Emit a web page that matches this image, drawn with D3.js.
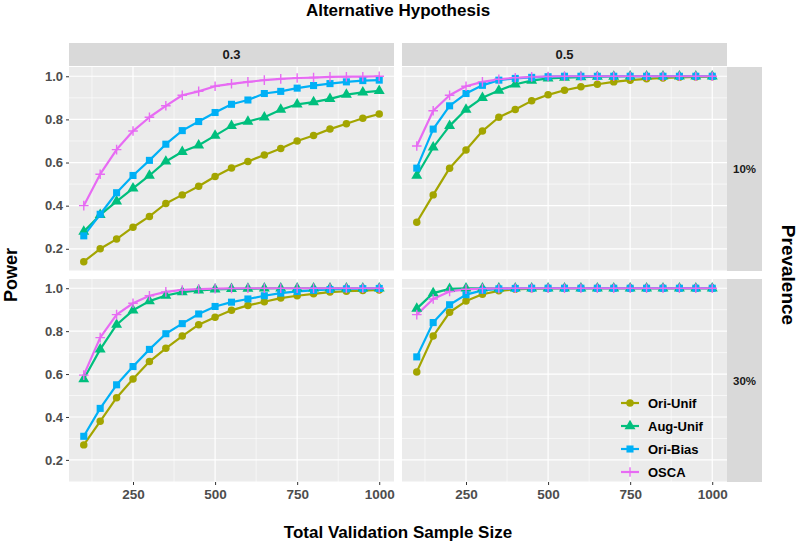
<!DOCTYPE html>
<html><head><meta charset="utf-8">
<script src="https://cdn.jsdelivr.net/npm/d3@7"></script>
<style>body{margin:0;background:#fff}text{font-family:"Liberation Sans",Arial,sans-serif;font-weight:bold}</style>
</head><body><svg id="c" width="800" height="545"></svg>
<script>
// ---------- data ----------
const sampleSizes = [100,150,200,250,300,350,400,450,500,550,600,650,700,750,800,850,900,950,1000];
const methods = ["Ori-Unif","Aug-Unif","Ori-Bias","OSCA"];
const colors = ["#A3A500","#00BF7D","#00B0F6","#E76BF3"];
const hypotheses = ["0.3","0.5"];
const prevalences = ["10%","30%"];
const xTicks = [250,500,750,1000];
const yTicks = [0.2,0.4,0.6,0.8,1.0];

// Alt 0.3, prevalence 10%
const oriUnif_03_10 = [0.14,0.20,0.245,0.30,0.35,0.41,0.45,0.49,0.535,0.575,0.605,0.635,0.665,0.70,0.725,0.755,0.78,0.805,0.825];
const augUnif_03_10 = [0.28,0.357,0.42,0.48,0.54,0.605,0.65,0.68,0.725,0.77,0.79,0.81,0.845,0.87,0.88,0.895,0.915,0.925,0.932];
const oriBias_03_10 = [0.26,0.36,0.46,0.54,0.61,0.685,0.748,0.79,0.832,0.87,0.89,0.92,0.93,0.945,0.957,0.966,0.974,0.98,0.982];
const osca_03_10    = [0.40,0.546,0.66,0.746,0.81,0.863,0.912,0.93,0.954,0.965,0.974,0.982,0.988,0.992,0.994,0.997,0.998,0.998,1.0];
// Alt 0.5, prevalence 10%
const oriUnif_05_10 = [0.323,0.45,0.574,0.658,0.746,0.81,0.846,0.886,0.914,0.935,0.951,0.963,0.974,0.982,0.988,0.992,0.995,0.997,0.998];
const augUnif_05_10 = [0.54,0.67,0.77,0.846,0.90,0.934,0.963,0.98,0.99,0.994,0.996,0.998,0.999,1,1,1,1,1,1];
const oriBias_05_10 = [0.574,0.755,0.863,0.92,0.958,0.982,0.99,0.995,0.998,1,1,1,1,1,1,1,1,1,1];
const osca_05_10    = [0.677,0.84,0.912,0.954,0.974,0.986,0.993,0.997,0.999,1,1,1,1,1,1,1,1,1,1];
// Alt 0.3, prevalence 30%
const oriUnif_03_30 = [0.27,0.38,0.49,0.577,0.658,0.72,0.777,0.83,0.865,0.897,0.92,0.937,0.954,0.965,0.974,0.982,0.986,0.989,0.992];
const augUnif_03_30 = [0.577,0.715,0.83,0.897,0.94,0.966,0.982,0.99,0.995,0.997,0.998,0.999,1,1,1,1,1,1,1];
const oriBias_03_30 = [0.31,0.44,0.55,0.635,0.715,0.788,0.835,0.88,0.915,0.935,0.95,0.965,0.977,0.985,0.99,0.994,0.997,0.998,0.999];
const osca_03_30    = [0.595,0.77,0.877,0.93,0.965,0.983,0.992,0.996,0.998,0.999,1,1,1,1,1,1,1,1,1];
// Alt 0.5, prevalence 30%
const oriUnif_05_30 = [0.61,0.777,0.888,0.94,0.972,0.988,0.995,0.998,0.999,1,1,1,1,1,1,1,1,1,1];
const augUnif_05_30 = [0.905,0.977,0.997,0.999,1,1,1,1,1,1,1,1,1,1,1,1,1,1,1];
const oriBias_05_30 = [0.68,0.84,0.923,0.97,0.99,0.997,0.999,1,1,1,1,1,1,1,1,1,1,1,1];
const osca_05_30    = [0.877,0.95,0.985,0.995,0.998,0.999,1,1,1,1,1,1,1,1,1,1,1,1,1];

const panelData = {
  "0.3|10%": [oriUnif_03_10, augUnif_03_10, oriBias_03_10, osca_03_10],
  "0.5|10%": [oriUnif_05_10, augUnif_05_10, oriBias_05_10, osca_05_10],
  "0.3|30%": [oriUnif_03_30, augUnif_03_30, oriBias_03_30, osca_03_30],
  "0.5|30%": [oriUnif_05_30, augUnif_05_30, oriBias_05_30, osca_05_30]
};

// ---------- layout ----------
const svg = d3.select("#c");
const colX = [[69,394],[402,727]];
const rowY = [[67,271],[279,482]];
const stripTop = [43,66];
const stripRight = [727,762];

const allVals = Object.values(panelData).flat(2);
const [ymin,ymax] = d3.extent(allVals);
const yPad = (ymax-ymin)*0.05;
const [xmin,xmax] = d3.extent(sampleSizes);
const xPad = (xmax-xmin)*0.05;

const symbols = [d3.symbolCircle, d3.symbolTriangle, d3.symbolSquare, null];
const symSize = [44, 52, 50, 0];

function drawShape(g, i, x, y, color) {
  if (symbols[i]) {
    g.append("path").attr("d", d3.symbol().type(symbols[i]).size(symSize[i])())
      .attr("transform", `translate(${x},${y})`).attr("fill", color);
  } else {
    const r = 4.8;
    g.append("path").attr("d", `M${x-r},${y}H${x+r}M${x},${y-r}V${y+r}`)
      .attr("stroke", color).attr("stroke-width", 1.4).attr("fill","none");
  }
}

hypotheses.forEach((h, ci) => {
  const x = d3.scaleLinear().domain([xmin-xPad, xmax+xPad]).range(colX[ci]);
  // top strip
  svg.append("rect").attr("x", colX[ci][0]).attr("y", stripTop[0])
    .attr("width", colX[ci][1]-colX[ci][0]).attr("height", stripTop[1]-stripTop[0]).attr("fill", "#D9D9D9");
  svg.append("text").attr("x", (colX[ci][0]+colX[ci][1])/2).attr("y", (stripTop[0]+stripTop[1])/2)
    .attr("dy","0.36em").attr("text-anchor","middle").attr("font-size",13).attr("fill","#1A1A1A").text(h);

  prevalences.forEach((p, ri) => {
    const y = d3.scaleLinear().domain([ymin-yPad, ymax+yPad]).range([rowY[ri][1], rowY[ri][0]]);
    const g = svg.append("g");
    g.append("rect").attr("x", colX[ci][0]).attr("y", rowY[ri][0])
      .attr("width", colX[ci][1]-colX[ci][0]).attr("height", rowY[ri][1]-rowY[ri][0]).attr("fill","#EBEBEB");
    // minor grid
    const xMinor = [125,375,625,875].filter(v => v >= x.domain()[0] && v <= x.domain()[1]);
    const yMinor = [0.1,0.3,0.5,0.7,0.9].filter(v => v >= y.domain()[0] && v <= y.domain()[1]);
    xMinor.forEach(v => g.append("line").attr("x1",x(v)).attr("x2",x(v)).attr("y1",rowY[ri][0]).attr("y2",rowY[ri][1]).attr("stroke","#fff").attr("stroke-width",0.6));
    yMinor.forEach(v => g.append("line").attr("y1",y(v)).attr("y2",y(v)).attr("x1",colX[ci][0]).attr("x2",colX[ci][1]).attr("stroke","#fff").attr("stroke-width",0.6));
    xTicks.forEach(v => g.append("line").attr("x1",x(v)).attr("x2",x(v)).attr("y1",rowY[ri][0]).attr("y2",rowY[ri][1]).attr("stroke","#fff").attr("stroke-width",1.2));
    yTicks.forEach(v => g.append("line").attr("y1",y(v)).attr("y2",y(v)).attr("x1",colX[ci][0]).attr("x2",colX[ci][1]).attr("stroke","#fff").attr("stroke-width",1.2));

    const series = panelData[h+"|"+p];
    const line = d3.line().x((d,i)=>x(sampleSizes[i])).y(d=>y(d));
    series.forEach((s, mi) => {
      g.append("path").attr("d", line(s)).attr("fill","none").attr("stroke", colors[mi])
        .attr("stroke-width", 2.2).attr("stroke-linejoin","round");
    });
    series.forEach((s, mi) => {
      s.forEach((v, i) => drawShape(g, mi, x(sampleSizes[i]), y(v), colors[mi]));
    });

    // y axis on left column
    if (ci === 0) {
      const ax = svg.append("g").attr("transform", `translate(${colX[0][0]},0)`)
        .call(d3.axisLeft(y).tickValues(yTicks).tickFormat(d3.format(".1f")).tickSize(3).tickPadding(3));
      ax.select(".domain").remove();
      ax.selectAll(".tick line").attr("stroke","#333");
      ax.selectAll("text").attr("font-size",13).attr("fill","#4D4D4D").attr("font-family",null);
    }
    // right strip
    if (ci === 1) {
      svg.append("rect").attr("x", stripRight[0]).attr("y", rowY[ri][0])
        .attr("width", stripRight[1]-stripRight[0]).attr("height", rowY[ri][1]-rowY[ri][0]).attr("fill","#D9D9D9");
      svg.append("text").attr("x", (stripRight[0]+stripRight[1])/2).attr("y", (rowY[ri][0]+rowY[ri][1])/2)
        .attr("dy","0.36em").attr("text-anchor","middle").attr("font-size",11.5).attr("fill","#1A1A1A").text(p);
    }
  });
  // x axis
  const ax = svg.append("g").attr("transform", `translate(0,${rowY[1][1]})`)
    .call(d3.axisBottom(x).tickValues(xTicks).tickFormat(d3.format("d")).tickSize(3).tickPadding(4));
  ax.select(".domain").remove();
  ax.selectAll(".tick line").attr("stroke","#333");
  ax.selectAll("text").attr("font-size",13.5).attr("fill","#4D4D4D").attr("font-family",null);
});

// titles
svg.append("text").attr("x", 398).attr("y", 16).attr("text-anchor","middle").attr("font-size",17).attr("fill","#000").text("Alternative Hypothesis");
svg.append("text").attr("x", 398).attr("y", 538).attr("text-anchor","middle").attr("font-size",17).attr("fill","#000").text("Total Validation Sample Size");
svg.append("text").attr("transform","translate(17,275) rotate(-90)").attr("text-anchor","middle").attr("font-size",18).attr("fill","#000").text("Power");
svg.append("text").attr("transform","translate(782,275) rotate(90)").attr("text-anchor","middle").attr("font-size",19).attr("fill","#000").text("Prevalence");

// legend (inside bottom-right panel)
const leg = svg.append("g");
methods.forEach((m, i) => {
  const ly = 403 + i*23;
  leg.append("line").attr("x1",621).attr("x2",639).attr("y1",ly).attr("y2",ly).attr("stroke",colors[i]).attr("stroke-width",2.2);
  drawShape(leg, i, 630, ly, colors[i]);
  leg.append("text").attr("x",648).attr("y",ly).attr("dy","0.36em").attr("font-size",13).attr("fill","#000").text(m);
});
</script></body></html>
